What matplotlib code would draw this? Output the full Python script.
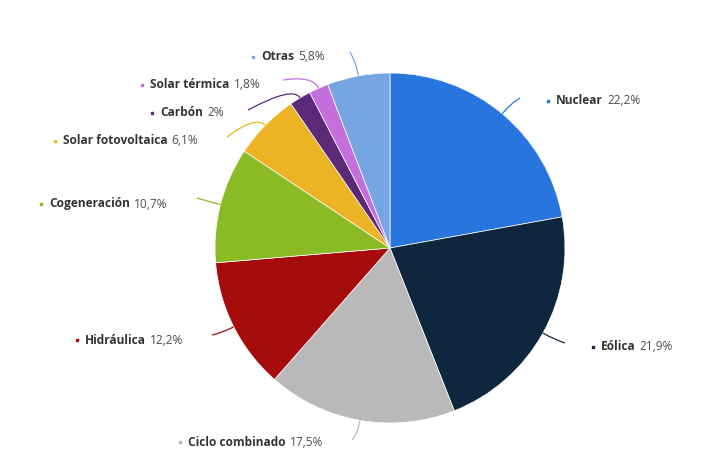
import matplotlib.pyplot as plt
import numpy as np
from matplotlib.path import Path
from matplotlib.patches import PathPatch

categories = ['Nuclear', 'Eólica', 'Ciclo combinado', 'Hidráulica', 'Cogeneración',
              'Solar fotovoltaica', 'Carbón', 'Solar térmica', 'Otras']
shares = [22.2, 21.9, 17.5, 12.2, 10.7, 6.1, 2, 1.8, 5.8]
colors = ['#2876dd', '#10263f', '#b9b9b9', '#a60c0c', '#8bbb24',
          '#ecb324', '#5a2a78', '#c46fdd', '#76a5e3']

# label layout in pixels: (dash x, text y, leader end x, leader end y)
label_pos = [(548, 101, 520, 98), (593, 347, 565, 343), (180, 442, 352, 440),
             (77, 340, 212, 335), (41, 204, 197, 198), (55, 141, 227, 137),
             (152, 113, 248, 110), (142, 85, 283, 80), (253, 57, 350, 52)]

W, H = 714, 468
cx, cy, R = 390, 248, 175

plt.rcParams['font.family'] = ['Open Sans', 'DejaVu Sans']
fig = plt.figure(figsize=(W / 100, H / 100), dpi=100)
ax = fig.add_axes([0, 0, 1, 1])

# y axis is inverted, so start at -90 and go counterclockwise in data = clockwise on screen
wedges, _ = ax.pie(shares, colors=colors, startangle=-90, counterclock=True,
                   center=(cx, cy), radius=R, frame=True,
                   wedgeprops=dict(edgecolor='white', linewidth=0.5))
ax.set_xlim(0, W)
ax.set_ylim(H, 0)
ax.set_aspect('equal')
ax.axis('off')

for w, name, val, col, (dx, ty, ex, ey) in zip(wedges, categories, shares, colors, label_pos):
    a = np.deg2rad((w.theta1 + w.theta2) / 2)
    sx, sy = cx + R * np.cos(a), cy + R * np.sin(a)
    kx, ky = cx + R * 1.08 * np.cos(a), cy + R * 1.08 * np.sin(a)
    path = Path([(sx, sy), (kx, ky), (ex, ey)], [Path.MOVETO, Path.CURVE3, Path.CURVE3])
    ax.add_patch(PathPatch(path, fill=False, edgecolor=col, linewidth=0.9))
    ax.plot([dx], [ty], marker='s', markersize=1.8, color=col, linestyle='none')
    t = ax.text(dx + 8, ty, name, fontsize=8.6, fontweight='bold', color='#333333',
                va='center', ha='left')
    pct = f'{val:g}'.replace('.', ',') + '%'
    ax.annotate(pct, xy=(1, 0.5), xycoords=t, xytext=(3, 0), textcoords='offset points',
                fontsize=8.6, color='#4d4d4d', va='center', ha='left')

fig.savefig('out.png', dpi=100)
